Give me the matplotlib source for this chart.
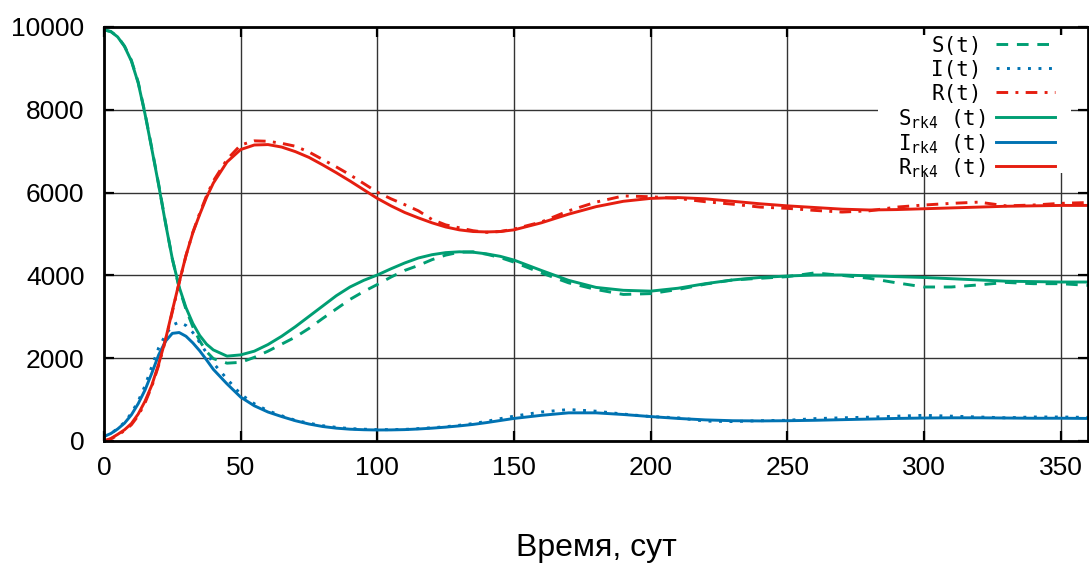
import matplotlib
matplotlib.use("Agg")
import matplotlib.pyplot as plt
from matplotlib.lines import Line2D
from matplotlib.patches import Rectangle

# time grid (days)
t = [0, 2.5, 5, 7.5, 10, 12.5, 15, 17.5, 20, 22.5, 25, 27.5, 30, 32.5, 35, 37.5, 40,
     45, 50, 55, 60, 65, 70, 75, 80, 85, 90, 95, 100, 105, 110, 115, 120, 125, 130,
     135, 140, 145, 150,
     160, 170, 180, 190, 200, 210, 220, 230, 240, 250, 260, 270, 280, 290, 300,
     310, 320, 330, 340, 350, 360]

# stochastic / reference solution
S = [9930, 9890, 9770, 9540, 9200, 8670, 7920, 7070, 6200, 5280, 4400, 3700, 3180, 2760, 2420, 2160, 1990,
     1880, 1900, 2020, 2170, 2340, 2510, 2720, 2960, 3190, 3420, 3610, 3780, 3960, 4120, 4240, 4380, 4490, 4560,
     4570, 4510, 4430, 4320,
     4060, 3820, 3660, 3540, 3560, 3660, 3790, 3890, 3930, 3970, 4060, 4000, 3930, 3820, 3720,
     3720, 3770, 3830, 3800, 3800, 3760]
I = [110, 180, 300, 450, 670, 960, 1330, 1800, 2250, 2560, 2800, 2870, 2790, 2620, 2380, 2130, 1880,
     1500, 1130, 900, 730, 610, 500, 430, 370, 330, 300, 285, 275, 275, 280, 300, 320, 345, 380,
     420, 475, 540, 600,
     700, 760, 720, 650, 590, 560, 480, 470, 490, 500, 540, 560, 575, 600, 620,
     600, 580, 560, 580, 580, 570]
R = [0, 50, 140, 250, 390, 610, 920, 1320, 1830, 2430, 3120, 3820, 4480, 5040, 5500, 5920, 6280,
     6800, 7150, 7250, 7240, 7190, 7120, 6980, 6800, 6620, 6430, 6220, 6010, 5850, 5710, 5560, 5350, 5220, 5150,
     5080, 5040, 5060, 5120,
     5290, 5560, 5770, 5920, 5900, 5860, 5780, 5720, 5650, 5620, 5570, 5530, 5560, 5650, 5700,
     5740, 5770, 5680, 5700, 5740, 5760]

# Runge-Kutta 4 solution
S_rk4 = [9930, 9890, 9760, 9530, 9180, 8650, 7900, 7050, 6180, 5260, 4400, 3720, 3220, 2840, 2550, 2340, 2200,
         2050, 2080, 2170, 2330, 2530, 2760, 3010, 3260, 3510, 3720, 3880, 4010, 4160, 4300, 4420, 4500, 4550, 4570,
         4560, 4520, 4460, 4370,
         4120, 3880, 3710, 3640, 3620, 3690, 3800, 3890, 3950, 3985, 4010, 4010, 3990, 3970, 3950,
         3920, 3890, 3860, 3850, 3840, 3840]
I_rk4 = [110, 180, 290, 430, 630, 900, 1230, 1640, 2080, 2410, 2600, 2620, 2530, 2370, 2180, 1960, 1730,
         1380, 1060, 850, 700, 590, 490, 410, 350, 310, 285, 272, 266, 268, 275, 290, 310, 335, 365,
         400, 445, 495, 545,
         620, 680, 680, 640, 590, 545, 510, 490, 485, 490, 500, 515, 530, 545, 555,
         560, 560, 555, 550, 550, 545]
R_rk4 = [0, 60, 160, 270, 420, 650, 960, 1350, 1860, 2450, 3150, 3830, 4480, 5030, 5470, 5880, 6230,
         6740, 7040, 7150, 7160, 7100, 6990, 6850, 6670, 6480, 6280, 6070, 5860, 5680, 5520, 5390, 5270, 5170, 5100,
         5060, 5050, 5060, 5100,
         5270, 5480, 5660, 5790, 5860, 5880, 5850, 5790, 5730, 5680, 5640, 5600, 5580, 5590, 5610,
         5630, 5650, 5670, 5680, 5690, 5690]

x_ticks = [0, 50, 100, 150, 200, 250, 300, 350]
y_ticks = [0, 2000, 4000, 6000, 8000, 10000]

green = '#009e73'
blue = '#0072b2'
red = '#e51e10'

plt.rcParams['font.family'] = ['Liberation Sans', 'DejaVu Sans']
plt.rcParams['mathtext.fontset'] = 'custom'
plt.rcParams['mathtext.rm'] = 'DejaVu Sans Mono'

fig = plt.figure(figsize=(10.89, 5.63), dpi=100)
ax = fig.add_axes([104 / 1089, 1 - 441 / 563, 984 / 1089, 414 / 563])

lw = 2.1
ax.plot(t, S, color=green, lw=lw, dashes=(4, 3), label='S(t)')
ax.plot(t, I, color=blue, lw=lw, dashes=(1, 2.6), label='I(t)')
ax.plot(t, R, color=red, lw=lw, dashes=(4, 2.5, 1, 2.5), label='R(t)')
ax.plot(t, S_rk4, color=green, lw=lw, label=r'S$_{\mathrm{rk4}}$ (t)')
ax.plot(t, I_rk4, color=blue, lw=lw, label=r'I$_{\mathrm{rk4}}$ (t)')
ax.plot(t, R_rk4, color=red, lw=lw, label=r'R$_{\mathrm{rk4}}$ (t)')

ax.set_xlim(0, 360)
ax.set_ylim(0, 10000)
ax.set_xticks(x_ticks)
ax.set_yticks(y_ticks)
ax.grid(True, color='#333333', lw=1.0)
ax.tick_params(direction='in', length=7, width=1.6, top=True, right=True, labelsize=19)
ax.tick_params(axis='y', pad=14)
ax.tick_params(axis='x', pad=11)
for sp in ax.spines.values():
    sp.set_linewidth(2)
ax.set_xlabel('Время, сут', fontsize=23, labelpad=38)

# key: opaque box, text right-aligned, sample line to the right
ax.add_patch(Rectangle((0.7866, 0.648), 0.1966, 0.332, transform=ax.transAxes,
                       facecolor='white', edgecolor='none', zorder=1.6))
row_y = [0.955, 0.896, 0.838, 0.777, 0.718, 0.660]
handles, labels = ax.get_legend_handles_labels()
for k, (h, lab) in enumerate(zip(handles, labels)):
    yy = row_y[k]
    tx = 0.892 if k < 3 else 0.896
    ax.text(tx, yy, lab, transform=ax.transAxes, ha='right', va='center',
            fontsize=15, family='DejaVu Sans Mono', zorder=3)
    ln = Line2D([0.906, 0.966], [yy + 0.005, yy + 0.005], transform=ax.transAxes,
                color=h.get_color(), lw=lw, zorder=3)
    if k < 3:
        ln.set_dashes(h._unscaled_dash_pattern[1])
    ax.add_line(ln)

fig.savefig('out.png', dpi=100)
